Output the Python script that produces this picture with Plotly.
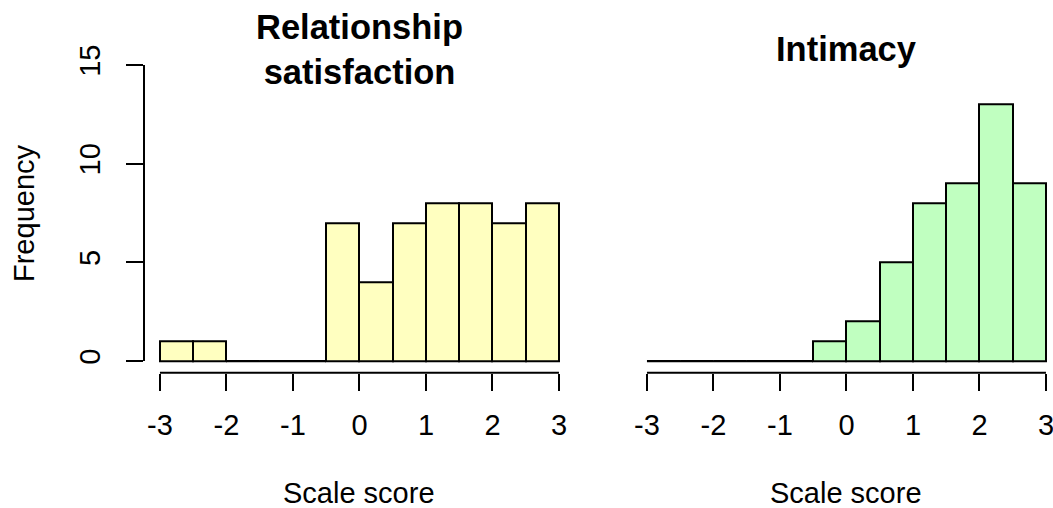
import plotly.graph_objects as go

# Histogram bins: edges from -3 to 3 in steps of 0.5
bin_edges = [-3.0, -2.5, -2.0, -1.5, -1.0, -0.5, 0.0, 0.5, 1.0, 1.5, 2.0, 2.5, 3.0]
satisfaction_counts = [1, 1, 0, 0, 0, 7, 4, 7, 8, 8, 7, 8]
intimacy_counts = [0, 0, 0, 0, 0, 1, 2, 5, 8, 9, 13, 9]

x_ticks = [-3, -2, -1, 0, 1, 2, 3]
y_ticks = [0, 5, 10, 15]

panel_titles = ["<b>Relationship<br>satisfaction</b>", "<b>Intimacy</b>"]
fills = ["#FFFFC0", "#C0FFC0"]

FONT = "Liberation Sans, Arial, Helvetica, sans-serif"
W, H = 1053, 508
LABEL_SIZE = 29
TITLE_SIZE = 34.5

# plot-region geometry (pixels)
px_per_unit = 399 / 6.0
left_px = [144.0, 631.0]
y_range = [-0.6, 15.6]
y_top_px, y_bot_px = 53.16, 372.84

fig = go.Figure()

centers = [(a + b) / 2 for a, b in zip(bin_edges[:-1], bin_edges[1:])]
widths = [b - a for a, b in zip(bin_edges[:-1], bin_edges[1:])]

for i, counts in enumerate([satisfaction_counts, intimacy_counts]):
    xa = "x" if i == 0 else "x2"
    ya = "y" if i == 0 else "y2"
    fig.add_trace(go.Bar(
        x=centers, y=counts, width=widths,
        marker=dict(color=fills[i], line=dict(color="black", width=2)),
        xaxis=xa, yaxis=ya, showlegend=False, hoverinfo="x+y",
    ))
    # empty bins are drawn as flat outlines along zero
    zx, zy = [], []
    for a, b, c in zip(bin_edges[:-1], bin_edges[1:], counts):
        if c == 0:
            zx += [a, b, None]
            zy += [0, 0, None]
    fig.add_trace(go.Scatter(
        x=zx, y=zy, mode="lines", line=dict(color="black", width=2),
        xaxis=xa, yaxis=ya, showlegend=False, hoverinfo="skip",
    ))

lo = bin_edges[0] - 0.24
for i, key in enumerate(["xaxis", "xaxis2"]):
    d0 = left_px[i] / W
    hi = lo + (W - left_px[i]) / px_per_unit if i == 1 else bin_edges[-1] + 0.24
    d1 = min(1.0, (left_px[i] + (hi - lo) * px_per_unit) / W)
    fig.layout[key] = dict(
        domain=[d0, d1], range=[lo, hi], showgrid=False, zeroline=False,
        showline=False, tickmode="array", tickvals=x_ticks,
        ticktext=[str(t) for t in x_ticks], ticks="outside", ticklen=17,
        tickwidth=2, tickcolor="black", ticklabelstandoff=9,
        ticklabeloverflow="allow", automargin=False,
        tickfont=dict(family=FONT, size=LABEL_SIZE, color="black"),
        anchor="y" if i == 0 else "y2", fixedrange=True,
    )

yd = [(H - y_bot_px) / H, (H - y_top_px) / H]
fig.layout["yaxis"] = dict(
    domain=yd, range=y_range, showgrid=False, zeroline=False, showline=False,
    tickmode="array", tickvals=y_ticks, ticktext=[str(t) for t in y_ticks],
    ticks="outside", ticklen=17, tickwidth=2, tickcolor="black",
    tickangle=-90, ticklabelstandoff=14, automargin=False,
    tickfont=dict(family=FONT, size=LABEL_SIZE, color="black"), fixedrange=True,
)
fig.layout["yaxis2"] = dict(domain=yd, range=y_range, visible=False,
                            anchor="x2", fixedrange=True, automargin=False)

shapes = []
# x axis lines spanning the first to the last tick
for xr in ["x", "x2"]:
    shapes.append(dict(type="line", xref=xr, yref="paper",
                       x0=x_ticks[0], x1=x_ticks[-1], y0=yd[0], y1=yd[0],
                       line=dict(color="black", width=2)))
# y axis line on the left panel
shapes.append(dict(type="line", xref="paper", yref="y",
                   x0=left_px[0] / W, x1=left_px[0] / W,
                   y0=y_ticks[0], y1=y_ticks[-1],
                   line=dict(color="black", width=2)))

annotations = []
for i, xr in enumerate(["x", "x2"]):
    annotations.append(dict(
        text=panel_titles[i], xref=xr, yref="paper", x=0,
        y=(H - 49) / H, yanchor="middle", xanchor="center", showarrow=False,
        font=dict(family=FONT, size=TITLE_SIZE, color="black"),
    ))
    annotations.append(dict(
        text="Scale score", xref=xr, yref="paper", x=0,
        y=(H - 493) / H, yanchor="middle", xanchor="center", showarrow=False,
        font=dict(family=FONT, size=LABEL_SIZE, color="black"),
    ))
annotations.append(dict(
    text="Frequency", xref="paper", yref="paper", x=24 / W, y=(H - 213) / H,
    xanchor="center", yanchor="middle", textangle=-90, showarrow=False,
    font=dict(family=FONT, size=LABEL_SIZE, color="black"),
))

fig.update_layout(
    width=W, height=H, margin=dict(l=0, r=0, t=0, b=0, autoexpand=False),
    paper_bgcolor="white", plot_bgcolor="white", bargap=0,
    shapes=shapes, annotations=annotations,
)

fig.write_html("out.html", config={"displayModeBar": False})
